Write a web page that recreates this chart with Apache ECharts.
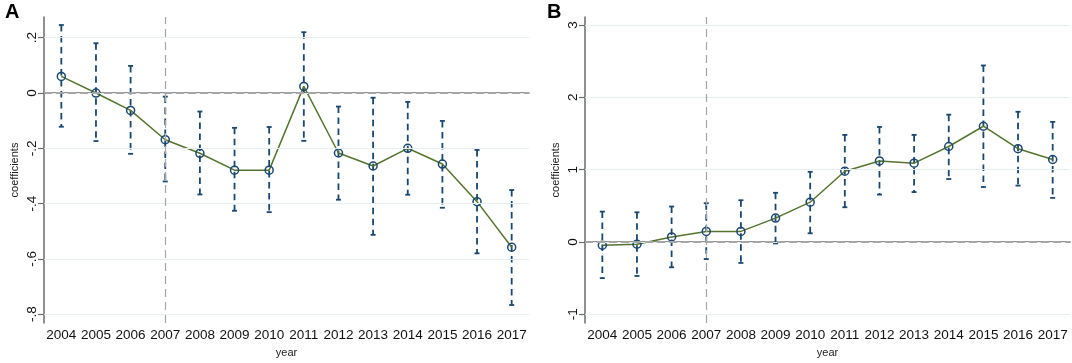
<!DOCTYPE html>
<html>
<head>
<meta charset="utf-8">
<script src="https://cdn.jsdelivr.net/npm/echarts@6/dist/echarts.min.js"></script>
<style>
  html, body { margin: 0; padding: 0; background: #fff; }
  #chart { width: 1072px; height: 363px; }
</style>
</head>
<body>
<div id="chart"></div>
<script>
const years = ['2004', '2005', '2006', '2007', '2008', '2009', '2010', '2011', '2012', '2013', '2014', '2015', '2016', '2017'];
const refYear = '2007';

// panel A
const coefA = [0.06, 0.0, -0.063, -0.169, -0.218, -0.279, -0.279, 0.024, -0.217, -0.264, -0.2, -0.257, -0.393, -0.558];
const lowA = [-0.122, -0.174, -0.22, -0.32, -0.367, -0.426, -0.431, -0.173, -0.386, -0.513, -0.368, -0.415, -0.58, -0.767];
const highA = [0.246, 0.18, 0.098, -0.013, -0.067, -0.126, -0.123, 0.22, -0.049, -0.017, -0.032, -0.101, -0.206, -0.351];
const yTicksA = [-0.8, -0.6, -0.4, -0.2, 0, 0.2];
const yLabelsA = ['-.8', '-.6', '-.4', '-.2', '0', '.2'];

// panel B
const coefB = [-0.045, -0.03, 0.07, 0.146, 0.146, 0.33, 0.55, 0.978, 1.12, 1.09, 1.32, 1.6, 1.29, 1.14];
const lowB = [-0.5, -0.47, -0.35, -0.236, -0.29, -0.02, 0.12, 0.48, 0.655, 0.69, 0.87, 0.76, 0.78, 0.61];
const highB = [0.42, 0.41, 0.49, 0.536, 0.577, 0.68, 0.97, 1.48, 1.59, 1.48, 1.76, 2.44, 1.8, 1.66];
const yTicksB = [-1, 0, 1, 2, 3];
const yLabelsB = ['-1', '0', '1', '2', '3'];

const navy = '#1a476f';
const olive = '#55752f';
const axisGray = '#6b6b6b';
const font = 'Liberation Sans, Arial, sans-serif';

const tickLabel = (ticks, labels) => (v) => {
    let best = 0;
    ticks.forEach((t, i) => {
        if (Math.abs(t - v) < Math.abs(ticks[best] - v)) best = i;
    });
    return labels[best];
};

const renderBar = (params, api) => {
    const x = api.value(0);
    const lo = api.coord([x, api.value(1)]);
    const hi = api.coord([x, api.value(2)]);
    const cap = 2.5;
    const capStyle = { stroke: navy, lineWidth: 1.8 };
    return {
        type: 'group',
        children: [
            {
                type: 'line',
                shape: { x1: hi[0], y1: hi[1], x2: lo[0], y2: lo[1] },
                style: { stroke: navy, lineWidth: 1.8, lineDash: [6.5, 4.5] }
            },
            { type: 'line', shape: { x1: hi[0] - cap, y1: hi[1], x2: hi[0] + cap, y2: hi[1] }, style: capStyle },
            { type: 'line', shape: { x1: lo[0] - cap, y1: lo[1], x2: lo[0] + cap, y2: lo[1] }, style: capStyle }
        ]
    };
};

const xAxisOpt = (gridIndex) => ({
    type: 'category',
    gridIndex,
    data: years,
    boundaryGap: true,
    name: 'year',
    nameLocation: 'middle',
    nameGap: 24,
    nameTextStyle: { fontFamily: font, fontSize: 11, color: '#222' },
    axisLine: { lineStyle: { color: axisGray, width: 1.5 } },
    axisTick: { alignWithLabel: true, length: 6, lineStyle: { color: axisGray, width: 1.2 } },
    axisLabel: { fontFamily: font, fontSize: 13.5, color: '#111', margin: 5, interval: 0 },
    splitLine: { show: false }
});

const yAxisOpt = (gridIndex, min, max, ticks, labels) => ({
    type: 'value',
    gridIndex,
    min,
    max,
    name: 'coefficients',
    nameLocation: 'middle',
    nameGap: 24,
    nameRotate: 90,
    nameTextStyle: { fontFamily: font, fontSize: 11, color: '#222' },
    axisLine: { show: true, lineStyle: { color: axisGray, width: 1.5 } },
    axisTick: { show: true, length: 6, customValues: ticks, lineStyle: { color: axisGray, width: 1.2 } },
    axisLabel: {
        fontFamily: font, fontSize: 13.5, color: '#111', rotate: 90, margin: 5,
        customValues: ticks, formatter: tickLabel(ticks, labels)
    },
    splitLine: { show: false }
});

const panelSeries = (idx, coef, low, high, ticks) => [
    {
        type: 'custom',
        xAxisIndex: idx,
        yAxisIndex: idx,
        z: 2,
        renderItem: renderBar,
        data: years.map((y, i) => [i, low[i], high[i]]),
        silent: true,
        markLine: {
            silent: true,
            symbol: 'none',
            label: { show: false },
            lineStyle: { color: '#e6eef0', width: 1, type: 'solid' },
            data: ticks.map((t) => ({ yAxis: t }))
        }
    },
    {
        type: 'line',
        xAxisIndex: idx,
        yAxisIndex: idx,
        z: 3,
        data: coef,
        symbol: 'circle',
        symbolSize: 8,
        itemStyle: { color: 'rgba(0,0,0,0)', borderColor: navy, borderWidth: 1.5 },
        lineStyle: { color: olive, width: 1.5 },
        emphasis: { disabled: true },
        markLine: {
            silent: true,
            symbol: 'none',
            label: { show: false },
            data: [
                { xAxis: refYear, lineStyle: { color: '#a6a6a6', width: 1.2, type: [8, 5] } },
                { yAxis: 0, lineStyle: { color: '#a6a6a6', width: 2, type: [8, 4] } }
            ]
        }
    }
];

const chart = echarts.init(document.getElementById('chart'));
chart.setOption({
    animation: false,
    backgroundColor: '#fff',
    title: [
        { text: 'A', left: 0, top: -3, textStyle: { fontFamily: font, fontSize: 20, fontWeight: 'bold', color: '#000' } },
        { text: 'B', left: 542, top: -3, textStyle: { fontFamily: font, fontSize: 20, fontWeight: 'bold', color: '#000' } }
    ],
    grid: [
        { left: 44, top: 17, width: 485, height: 310 },
        { left: 585, top: 17, width: 485, height: 310 }
    ],
    xAxis: [xAxisOpt(0), xAxisOpt(1)],
    yAxis: [
        yAxisOpt(0, -0.832, 0.275, yTicksA, yLabelsA),
        yAxisOpt(1, -1.12, 3.11, yTicksB, yLabelsB)
    ],
    series: [
        ...panelSeries(0, coefA, lowA, highA, yTicksA),
        ...panelSeries(1, coefB, lowB, highB, yTicksB)
    ]
});
</script>
</body>
</html>
